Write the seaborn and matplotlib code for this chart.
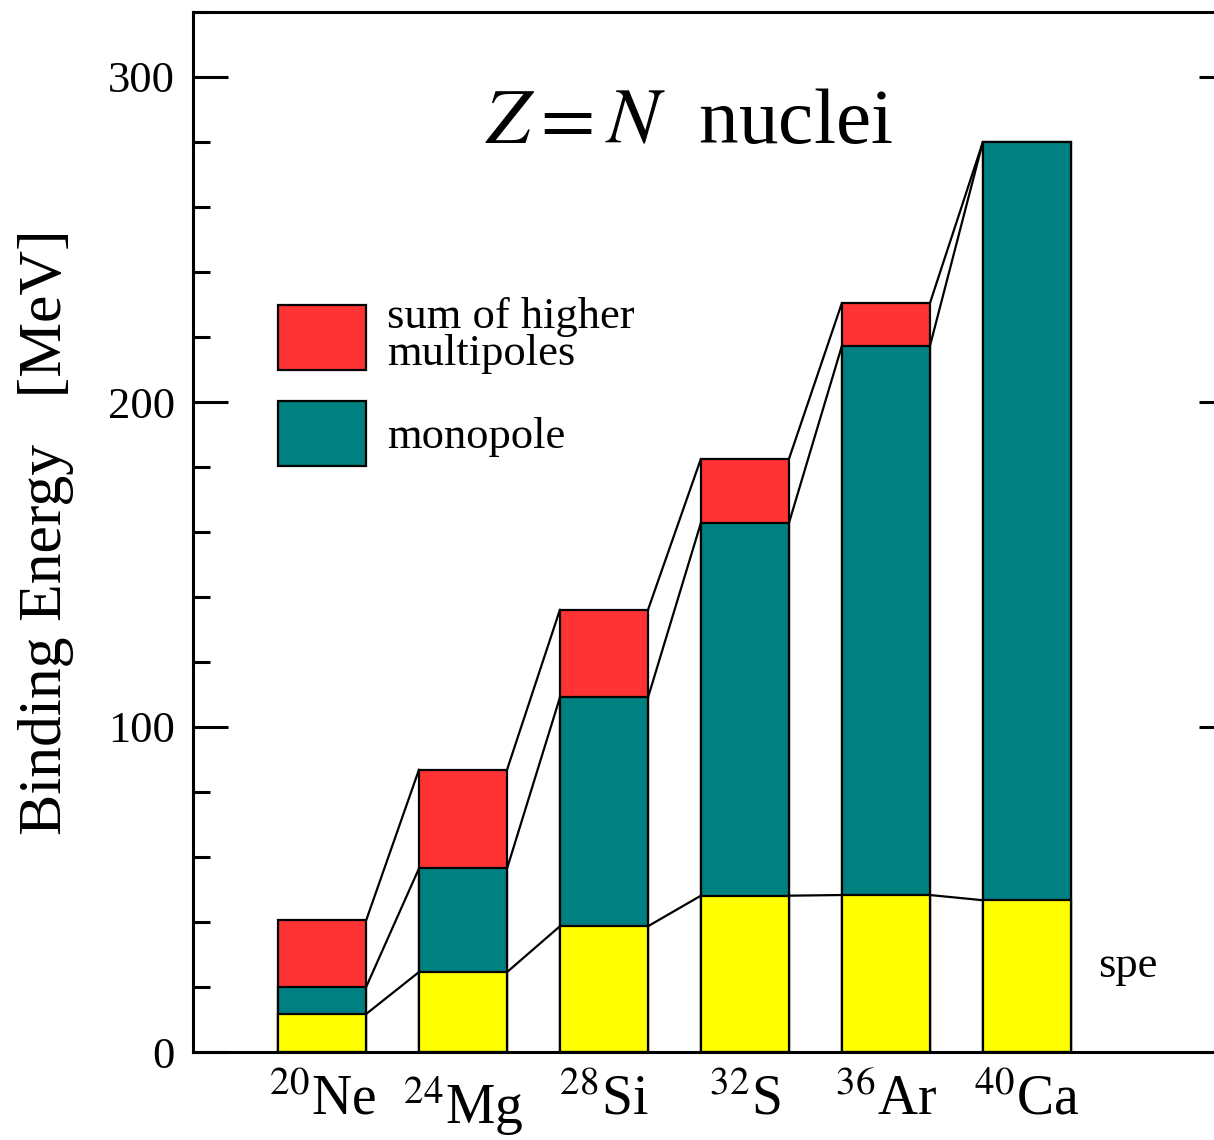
import matplotlib
matplotlib.use('Agg')
import matplotlib.pyplot as plt
import seaborn as sns
import numpy as np
import pandas as pd
from matplotlib.patches import Patch
from matplotlib.ticker import MultipleLocator

# ---- data (MeV) ----
nuclei = ['$^{20}$Ne', '$^{24}$Mg', '$^{28}$Si', '$^{32}$S', '$^{36}$Ar', '$^{40}$Ca']
spe = [11.7, 24.6, 38.7, 48.1, 48.3, 46.7]
monopole = [8.3, 31.9, 70.4, 114.7, 168.9, 233.2]
higher = [20.5, 30.4, 27.0, 19.7, 13.2, 0.0]

RED = '#FF3333'
TEAL = '#008080'
YELLOW = '#FFFF00'

sns.set_style('ticks')
plt.rcParams['font.family'] = ['Liberation Serif', 'DejaVu Serif']
plt.rcParams['mathtext.fontset'] = 'stix'
for k in ['text.color', 'axes.labelcolor', 'xtick.color', 'ytick.color', 'axes.edgecolor']:
    plt.rcParams[k] = 'black'

fig = plt.figure(figsize=(12.14, 11.40), dpi=100)
ax = fig.add_axes([193/1214, 88/1140, 1041/1214, 1040/1140])

df = pd.DataFrame({'nucleus': nuclei, 'spe': spe, 'monopole': monopole, 'higher': higher})
df['mono_top'] = df['spe'] + df['monopole']
df['total'] = df['mono_top'] + df['higher']

W = 0.625
for col, color in [('total', RED), ('mono_top', TEAL), ('spe', YELLOW)]:
    sns.barplot(data=df, x='nucleus', y=col, color=color, saturation=1, width=W,
                edgecolor='black', linewidth=1.6, errorbar=None, ax=ax, zorder=2)

pos = np.arange(len(nuclei))
for col in ['spe', 'mono_top', 'total']:
    v = df[col].values
    for i in range(len(v) - 1):
        ax.plot([pos[i] + W/2, pos[i+1] - W/2], [v[i], v[i+1]], color='black', lw=1.6, zorder=3)

ax.set_xlim(-0.916, 6.47)
ax.set_ylim(0, 320)
ax.yaxis.set_major_locator(MultipleLocator(100))
ax.yaxis.set_minor_locator(MultipleLocator(20))
ax.tick_params(axis='y', which='both', direction='in', left=True, right=True, width=2.2, color='black')
ax.tick_params(axis='y', which='major', length=25, labelsize=32, pad=13)
ax.tick_params(axis='y', which='minor', length=12.5)
ax.tick_params(axis='x', length=0, labelsize=40, pad=16)
for s in ax.spines.values():
    s.set_linewidth(2.2)
    s.set_color('black')

ax.set_xlabel('')
ax.set_ylabel('Binding Energy   [MeV]', fontsize=44.5, labelpad=24)

ax.text(2.6, 279.6, '$Z = N$  nuclei', fontsize=57, ha='center', va='baseline')
ax.text(5.507, 23, 'spe', fontsize=32, ha='left', va='baseline')

handles = [Patch(facecolor=RED, edgecolor='black', linewidth=1.6, label='sum of higher\nmultipoles'),
           Patch(facecolor=TEAL, edgecolor='black', linewidth=1.6, label='monopole')]
leg = ax.legend(handles=handles, loc='upper left', bbox_to_anchor=(0.0817, 0.7255),
                frameon=False, fontsize=32, handlelength=1.98, handleheight=1.875,
                handletextpad=0.47, labelspacing=0.6, borderaxespad=0, borderpad=0)
leg.get_texts()[0].set_linespacing(0.9)

fig.savefig('out.png', dpi=100)
